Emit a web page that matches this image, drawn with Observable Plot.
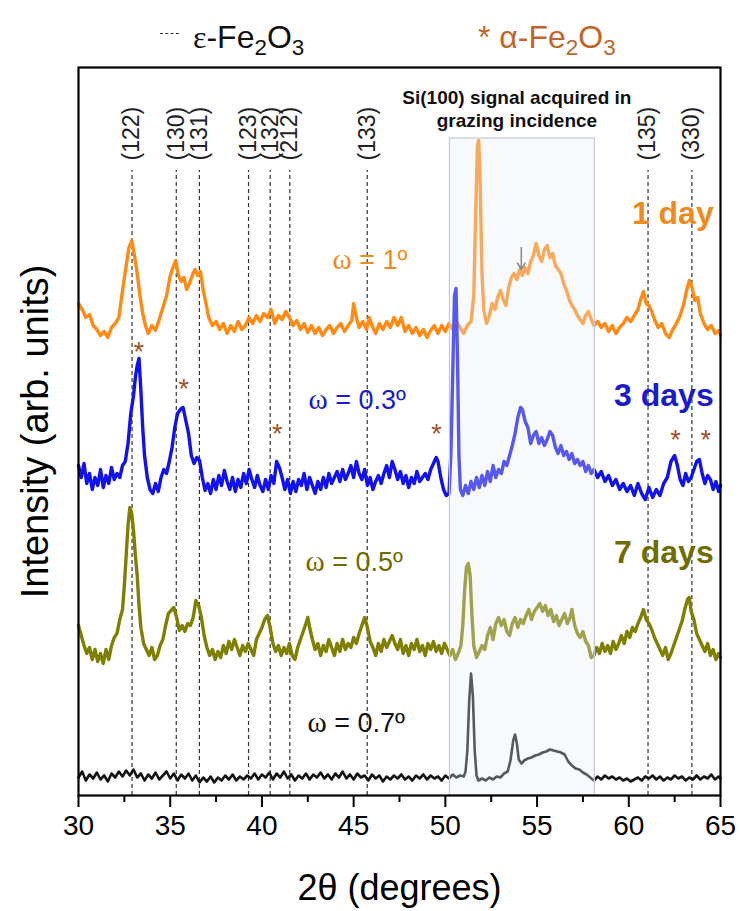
<!DOCTYPE html>
<html>
<head>
<meta charset="utf-8">
<script src="https://cdn.jsdelivr.net/npm/d3@7"></script>
<script src="https://cdn.jsdelivr.net/npm/@observablehq/plot@0.6"></script>
<style>
  body { margin: 0; background: #fff; font-family: "Liberation Sans", Arial, sans-serif; }
  #legend { position: relative; width: 740px; height: 57px; }
  #legend .item { position: absolute; top: 19px; font-size: 32px; line-height: 36px; white-space: nowrap; }
  #legend sub { font-size: 70%; vertical-align: -0.3em; line-height: 0; }
  #legend .dash { position: absolute; left: 160px; top: 33px; width: 19px; border-top: 1.5px dashed #333; }
  #chart svg { display: block; }
</style>
</head>
<body>
<div id="legend">
  <div class="dash"></div>
  <div class="item" style="left:193px;color:#111"><span style="font-family:'Liberation Serif',serif">ε</span>-Fe<sub>2</sub>O<sub>3</sub></div>
  <div class="item" style="left:478px;color:#c0662a">* α-Fe<sub>2</sub>O<sub>3</sub></div>
</div>
<div id="chart"></div>
<script>
// ---- axis ticks ----
const xTicks = [30, 35, 40, 45, 50, 55, 60, 65];
const xMinorTicks = [32.5, 37.5, 42.5, 47.5, 52.5, 57.5, 62.5];

// ---- ε-Fe2O3 reflections ----
const millerLabels = ["(122)", "(130)", "(131)", "(123)", "(132)", "(212)", "(133)", "(135)", "(330)"];
const millerPos = [32.92, 35.33, 36.59, 39.27, 40.45, 41.52, 45.74, 61.05, 63.44];

// ---- α-Fe2O3 markers (2θ, stacked intensity) ----
const alphaX = [33.29, 35.74, 40.83, 49.52, 62.55, 64.19];
const alphaY = [450, 413, 368, 368, 362, 362];

// ---- Si(100) region ----
const siRegion = [50.25, 58.15];
const siLabel = "Si(100) signal acquired in\ngrazing incidence";

// ---- series ----
const seriesDays = ["1 day", "3 days", "7 days", ""];
const seriesOmega = ["ω = 1º", "ω = 0.3º", "ω = 0.5º", "ω = 0.7º"];
const seriesColors = ["#ff8a14", "#1212ee", "#7f7f00", "#141414"];
const labelColors = ["#f08a1e", "#1a1ad0", "#6f6c00", "#111111"];
const seriesWidths = [3.4, 3.4, 3.4, 2.6];

// stacked intensities (arb. units), [2θ, intensity]
const trace1day = [[30.0,492],[30.2,486],[30.4,478],[30.6,481],[30.8,470],[31.0,466],[31.2,460],[31.4,464],[31.6,458],[31.8,468],[32.0,472],[32.2,478],[32.4,505],[32.6,530],[32.75,548],[32.9,555],[33.05,540],[33.2,522],[33.35,500],[33.5,482],[33.65,470],[33.8,462],[34.0,470],[34.2,465],[34.4,476],[34.6,488],[34.8,500],[35.0,520],[35.15,528],[35.3,535],[35.45,520],[35.6,514],[35.75,518],[35.9,506],[36.05,512],[36.2,520],[36.35,526],[36.5,520],[36.65,524],[36.8,505],[36.95,492],[37.1,478],[37.3,470],[37.5,474],[37.7,466],[37.9,472],[38.1,462],[38.3,470],[38.5,464],[38.7,474],[38.9,466],[39.1,470],[39.3,478],[39.5,472],[39.7,480],[39.9,474],[40.1,482],[40.3,478],[40.5,486],[40.7,472],[40.9,480],[41.1,476],[41.3,484],[41.5,478],[41.7,470],[41.9,475],[42.1,466],[42.3,472],[42.5,463],[42.7,470],[42.9,462],[43.1,468],[43.3,460],[43.5,466],[43.7,470],[43.9,462],[44.1,468],[44.3,472],[44.5,464],[44.7,470],[44.9,475],[45.0,492],[45.15,478],[45.3,468],[45.5,474],[45.7,466],[45.85,478],[46.0,470],[46.2,462],[46.4,472],[46.6,466],[46.8,474],[47.0,468],[47.2,478],[47.4,470],[47.6,478],[47.8,464],[48.0,470],[48.2,462],[48.4,468],[48.6,460],[48.8,466],[49.0,458],[49.2,465],[49.4,470],[49.6,462],[49.8,470],[50.0,464],[50.2,472],[50.4,466],[50.6,474],[50.8,468],[51.0,462],[51.2,470],[51.4,474],[51.55,500],[51.65,580],[51.75,650],[51.82,655],[51.9,610],[52.0,520],[52.1,485],[52.25,472],[52.4,480],[52.55,492],[52.7,486],[52.85,498],[53.0,505],[53.15,496],[53.3,490],[53.45,508],[53.6,518],[53.75,522],[53.9,516],[54.05,526],[54.2,520],[54.35,528],[54.5,522],[54.65,534],[54.8,540],[54.95,552],[55.1,540],[55.25,534],[55.4,546],[55.55,550],[55.7,538],[55.85,542],[56.0,530],[56.15,526],[56.3,522],[56.45,512],[56.6,505],[56.75,496],[56.9,490],[57.05,486],[57.2,480],[57.35,476],[57.5,472],[57.65,480],[57.8,484],[57.95,476],[58.1,470],[58.3,474],[58.5,468],[58.7,472],[58.9,464],[59.1,470],[59.3,462],[59.5,468],[59.7,472],[59.9,478],[60.1,474],[60.3,480],[60.5,486],[60.65,496],[60.8,504],[60.95,492],[61.1,490],[61.25,484],[61.4,476],[61.6,468],[61.8,472],[62.0,462],[62.2,458],[62.4,466],[62.6,472],[62.8,480],[63.0,492],[63.15,505],[63.3,515],[63.45,508],[63.6,495],[63.75,498],[63.9,482],[64.1,472],[64.3,466],[64.5,470],[64.7,462],[64.9,465],[65.0,460]];

const trace3days = [[30.0,330],[30.15,318],[30.3,332],[30.45,312],[30.6,322],[30.75,306],[30.9,318],[31.05,310],[31.2,326],[31.35,308],[31.5,320],[31.65,312],[31.8,328],[31.95,316],[32.1,322],[32.25,318],[32.4,330],[32.55,334],[32.7,352],[32.85,382],[33.0,400],[33.1,418],[33.2,430],[33.3,437],[33.4,405],[33.5,368],[33.6,340],[33.75,318],[33.9,306],[34.05,302],[34.2,312],[34.35,304],[34.5,318],[34.65,326],[34.8,322],[34.95,334],[35.1,348],[35.25,368],[35.4,382],[35.55,386],[35.7,388],[35.85,375],[36.0,362],[36.15,340],[36.3,332],[36.45,338],[36.6,335],[36.75,318],[36.9,305],[37.05,312],[37.2,302],[37.35,316],[37.5,306],[37.65,320],[37.8,310],[37.95,325],[38.1,314],[38.25,306],[38.4,318],[38.55,304],[38.7,316],[38.85,308],[39.0,322],[39.15,312],[39.3,326],[39.45,316],[39.6,308],[39.75,320],[39.9,310],[40.05,304],[40.2,316],[40.35,306],[40.5,320],[40.65,312],[40.8,334],[40.95,328],[41.1,318],[41.25,306],[41.4,316],[41.55,302],[41.7,314],[41.85,304],[42.0,316],[42.15,310],[42.3,322],[42.45,306],[42.6,318],[42.75,310],[42.9,302],[43.05,314],[43.2,306],[43.35,318],[43.5,308],[43.65,322],[43.8,312],[43.95,318],[44.1,324],[44.25,314],[44.4,326],[44.55,316],[44.7,322],[44.85,330],[45.0,318],[45.15,334],[45.3,322],[45.45,316],[45.6,326],[45.75,310],[45.9,318],[46.05,306],[46.2,314],[46.35,320],[46.5,312],[46.65,322],[46.8,330],[46.95,318],[47.1,334],[47.25,326],[47.4,316],[47.55,324],[47.7,312],[47.85,320],[48.0,308],[48.15,318],[48.3,312],[48.45,324],[48.6,314],[48.75,318],[48.9,322],[49.05,316],[49.2,326],[49.35,332],[49.5,338],[49.6,334],[49.75,318],[49.9,306],[50.05,300],[50.2,302],[50.3,340],[50.4,420],[50.5,500],[50.58,507],[50.66,440],[50.74,340],[50.82,306],[50.95,300],[51.1,310],[51.25,302],[51.4,314],[51.55,306],[51.7,318],[51.85,308],[52.0,320],[52.15,310],[52.3,324],[52.45,314],[52.6,330],[52.75,318],[52.9,326],[53.05,322],[53.2,334],[53.35,330],[53.5,340],[53.65,350],[53.8,362],[53.95,378],[54.1,388],[54.2,386],[54.35,374],[54.5,368],[54.65,352],[54.8,360],[54.95,364],[55.1,352],[55.25,358],[55.4,350],[55.55,356],[55.7,364],[55.85,360],[56.0,348],[56.15,342],[56.3,350],[56.45,340],[56.6,344],[56.75,336],[56.9,342],[57.05,332],[57.2,336],[57.35,330],[57.5,334],[57.65,324],[57.8,330],[57.95,322],[58.1,326],[58.3,318],[58.5,324],[58.7,314],[58.9,320],[59.1,310],[59.3,316],[59.5,306],[59.7,312],[59.9,304],[60.1,310],[60.3,300],[60.5,312],[60.7,302],[60.9,296],[61.1,308],[61.3,298],[61.5,306],[61.7,300],[61.9,312],[62.1,318],[62.3,334],[62.5,340],[62.65,330],[62.8,316],[62.95,310],[63.1,322],[63.25,314],[63.4,318],[63.55,326],[63.7,334],[63.85,336],[64.0,322],[64.15,312],[64.3,320],[64.45,316],[64.6,306],[64.75,314],[64.9,304],[65.0,310]];

const trace7days = [[30.0,170],[30.15,160],[30.3,150],[30.45,142],[30.6,148],[30.75,136],[30.9,146],[31.05,134],[31.2,142],[31.35,132],[31.5,146],[31.65,136],[31.8,150],[31.95,158],[32.1,162],[32.25,176],[32.4,186],[32.5,210],[32.6,240],[32.7,270],[32.8,288],[32.9,282],[33.0,265],[33.1,240],[33.2,220],[33.3,190],[33.4,168],[33.55,152],[33.7,146],[33.85,140],[34.0,148],[34.15,136],[34.3,140],[34.45,150],[34.6,156],[34.75,170],[34.9,182],[35.05,185],[35.2,188],[35.35,178],[35.5,165],[35.65,170],[35.8,164],[35.95,172],[36.1,170],[36.25,178],[36.4,195],[36.55,190],[36.7,178],[36.85,160],[37.0,148],[37.15,140],[37.3,146],[37.45,136],[37.6,144],[37.75,138],[37.9,150],[38.05,142],[38.2,154],[38.35,146],[38.5,156],[38.65,148],[38.8,140],[38.95,150],[39.1,144],[39.25,152],[39.4,146],[39.55,140],[39.7,156],[39.85,162],[40.0,168],[40.15,176],[40.3,180],[40.45,168],[40.6,152],[40.75,144],[40.9,150],[41.05,140],[41.2,148],[41.35,142],[41.5,152],[41.65,140],[41.8,136],[41.95,148],[42.1,156],[42.25,164],[42.4,172],[42.5,178],[42.6,168],[42.75,156],[42.9,146],[43.05,152],[43.2,140],[43.35,150],[43.5,144],[43.65,156],[43.8,148],[43.95,140],[44.1,152],[44.25,144],[44.4,156],[44.55,146],[44.7,152],[44.85,148],[45.0,158],[45.15,152],[45.3,162],[45.45,170],[45.6,178],[45.75,168],[45.9,154],[46.05,148],[46.2,140],[46.35,152],[46.5,144],[46.65,156],[46.8,148],[46.95,154],[47.1,160],[47.25,152],[47.4,146],[47.55,156],[47.7,142],[47.85,150],[48.0,140],[48.15,152],[48.3,146],[48.45,156],[48.6,144],[48.75,150],[48.9,140],[49.05,152],[49.2,146],[49.35,154],[49.5,144],[49.65,150],[49.8,142],[49.95,152],[50.1,146],[50.25,140],[50.4,146],[50.55,136],[50.7,142],[50.85,150],[50.95,170],[51.05,205],[51.15,228],[51.25,232],[51.35,220],[51.45,180],[51.55,150],[51.7,138],[51.85,144],[52.0,150],[52.15,146],[52.3,160],[52.45,168],[52.6,156],[52.75,172],[52.9,178],[53.05,170],[53.2,176],[53.35,164],[53.5,160],[53.65,172],[53.8,178],[53.95,168],[54.1,176],[54.25,172],[54.4,180],[54.55,186],[54.7,176],[54.85,184],[55.0,188],[55.15,192],[55.3,184],[55.45,190],[55.6,180],[55.75,186],[55.9,174],[56.05,180],[56.2,170],[56.35,176],[56.5,182],[56.65,172],[56.8,178],[56.9,186],[57.05,170],[57.2,162],[57.35,158],[57.5,164],[57.65,154],[57.8,150],[57.95,138],[58.1,140],[58.25,148],[58.4,142],[58.55,152],[58.7,144],[58.85,150],[59.0,142],[59.15,154],[59.3,146],[59.45,152],[59.6,160],[59.75,152],[59.9,164],[60.05,158],[60.2,168],[60.35,164],[60.5,172],[60.65,178],[60.8,186],[60.95,176],[61.1,172],[61.25,166],[61.4,158],[61.55,152],[61.7,146],[61.85,140],[62.0,148],[62.15,136],[62.3,142],[62.45,150],[62.6,158],[62.75,166],[62.9,174],[63.05,186],[63.2,196],[63.3,198],[63.4,184],[63.55,176],[63.7,162],[63.85,156],[64.0,150],[64.15,144],[64.3,152],[64.45,140],[64.6,146],[64.75,136],[64.9,142],[65.0,138]];

const trace07 = [[30.0,18],[30.2,24],[30.4,15],[30.6,21],[30.8,17],[31.0,23],[31.2,16],[31.4,20],[31.6,14],[31.8,22],[32.0,18],[32.2,24],[32.4,19],[32.6,25],[32.8,20],[33.0,26],[33.2,18],[33.4,22],[33.6,15],[33.8,21],[34.0,17],[34.2,23],[34.4,16],[34.6,20],[34.8,24],[35.0,17],[35.2,22],[35.4,15],[35.6,21],[35.8,17],[36.0,22],[36.2,15],[36.4,20],[36.6,13],[36.8,18],[37.0,14],[37.2,19],[37.4,13],[37.6,18],[37.8,15],[38.0,20],[38.2,16],[38.4,21],[38.6,15],[38.8,19],[39.0,16],[39.2,20],[39.4,17],[39.6,22],[39.8,16],[40.0,21],[40.2,18],[40.4,23],[40.6,16],[40.8,22],[41.0,18],[41.2,24],[41.4,17],[41.6,21],[41.8,15],[42.0,20],[42.2,17],[42.4,22],[42.6,16],[42.8,21],[43.0,18],[43.2,23],[43.4,17],[43.6,21],[43.8,16],[44.0,22],[44.2,18],[44.4,24],[44.6,17],[44.8,21],[45.0,16],[45.2,22],[45.4,18],[45.6,20],[45.8,15],[46.0,21],[46.2,17],[46.4,20],[46.6,14],[46.8,19],[47.0,16],[47.2,20],[47.4,17],[47.6,21],[47.8,16],[48.0,19],[48.2,15],[48.4,20],[48.6,17],[48.8,21],[49.0,16],[49.2,20],[49.4,17],[49.6,19],[49.8,15],[50.0,20],[50.2,17],[50.4,21],[50.6,18],[50.8,20],[51.0,19],[51.1,24],[51.2,45],[51.3,95],[51.4,122],[51.5,100],[51.6,45],[51.7,20],[51.8,15],[52.0,17],[52.2,15],[52.4,18],[52.6,16],[52.8,19],[53.0,18],[53.2,22],[53.4,24],[53.55,35],[53.7,55],[53.8,61],[53.9,52],[54.0,36],[54.15,32],[54.3,35],[54.5,37],[54.7,38],[54.9,40],[55.1,41],[55.3,43],[55.5,44],[55.7,46],[55.9,45],[56.1,44],[56.3,43],[56.5,41],[56.7,34],[56.9,30],[57.1,27],[57.3,26],[57.5,23],[57.7,21],[57.9,18],[58.1,15],[58.3,19],[58.5,16],[58.7,20],[58.9,17],[59.1,19],[59.3,16],[59.5,18],[59.7,15],[59.9,17],[60.1,14],[60.3,16],[60.5,18],[60.7,15],[60.9,19],[61.1,17],[61.3,20],[61.5,16],[61.7,19],[61.9,15],[62.1,18],[62.3,16],[62.5,20],[62.7,17],[62.9,19],[63.1,15],[63.3,18],[63.5,16],[63.7,20],[63.9,16],[64.1,19],[64.3,17],[64.5,21],[64.7,16],[64.9,19],[65.0,17]];

const traces = [trace1day, trace3days, trace7days, trace07];

// label anchor positions (2θ, stacked intensity)
const omegaLabelX = [43.85, 42.54, 42.38, 42.49];
const omegaLabelY = [535, 395, 233, 72];
const dayLabelX = [64.63, 64.63, 64.63];
const dayLabelY = [582, 400, 243];
const siArrow = {x: 54.14, y1: 548, y2: 526};

const font = "'Liberation Sans', Arial, sans-serif";

const marks = [
  Plot.ruleX(millerPos, {x: d => d, y1: 0, y2: 625, stroke: "#333", strokeDasharray: "4,3", strokeWidth: 1.2}),
  Plot.text(millerLabels, {x: (d, i) => millerPos[i], y: 635, text: d => d, rotate: -90, textAnchor: "start", fontSize: 23, fill: "#222"}),
  ...traces.map((t, i) => Plot.line(t, {x: d => d[0], y: d => d[1], stroke: seriesColors[i], strokeWidth: seriesWidths[i], strokeLinejoin: "round"})),
  Plot.rect([siRegion], {x1: d => d[0], x2: d => d[1], y1: 0, y2: 657, fill: "#e9ecf3", fillOpacity: 0.32, stroke: "#c3c9d6", strokeWidth: 1.2}),
  Plot.text([siLabel], {x: 53.9, y: 687, text: d => d, fontSize: 19, fontWeight: "bold", lineHeight: 1.2, fill: "#111"}),
  Plot.arrow([siArrow], {x1: d => d.x, x2: d => d.x, y1: d => d.y1, y2: d => d.y2, stroke: "#8c8c8c", strokeWidth: 1.6, headLength: 11}),
  Plot.text(alphaX, {x: d => d, y: (d, i) => alphaY[i], text: () => "*", fontSize: 27, fill: "#a0522d", dy: 7}),
  Plot.text(seriesOmega, {x: (d, i) => omegaLabelX[i], y: (d, i) => omegaLabelY[i], text: d => d, textAnchor: "start", fontSize: 27, fill: (d, i) => labelColors[i]}),
  Plot.text(seriesDays.slice(0, 3), {x: (d, i) => dayLabelX[i], y: (d, i) => dayLabelY[i], text: d => d, textAnchor: "end", fontSize: 32, fontWeight: "bold", fill: (d, i) => labelColors[i]}),
  Plot.axisX(xTicks, {tickSize: 12, tickPadding: 8, fontSize: 28, strokeWidth: 2, stroke: "#000", fill: "#000", label: null}),
  Plot.axisX(xMinorTicks, {tickSize: 7, tickFormat: () => "", strokeWidth: 2, stroke: "#000", label: null}),
  Plot.text(["2θ (degrees)"], {frameAnchor: "bottom", dy: 93, lineAnchor: "middle", textAnchor: "middle", text: d => d, fontSize: 36, fill: "#000"}),
  Plot.text(["Intensity (arb. units)"], {frameAnchor: "left", dx: -43, rotate: -90, textAnchor: "middle", lineAnchor: "middle", text: d => d, fontSize: 38, fill: "#000"}),
  Plot.frame({stroke: "#000", strokeWidth: 2.2})
];

const chart = Plot.plot({
  width: 740,
  height: 854,
  marginLeft: 78,
  marginRight: 20,
  marginTop: 10,
  marginBottom: 116,
  style: {fontFamily: font, background: "#fff", color: "#000"},
  x: {domain: [30, 65], label: null},
  y: {domain: [0, 728], axis: null},
  marks
});

// serif omega glyph, as in the original figure
d3.select(chart).selectAll("text").each(function () {
  const s = this.textContent;
  if (s.startsWith("ω") && this.childElementCount === 0) {
    const el = d3.select(this);
    el.text(null);
    el.append("tspan").attr("font-family", "'Liberation Serif', serif").attr("font-size", "1.08em").text("ω");
    el.append("tspan").text(s.slice(1));
  }
});

document.getElementById("chart").appendChild(chart);
</script>
</body>
</html>
